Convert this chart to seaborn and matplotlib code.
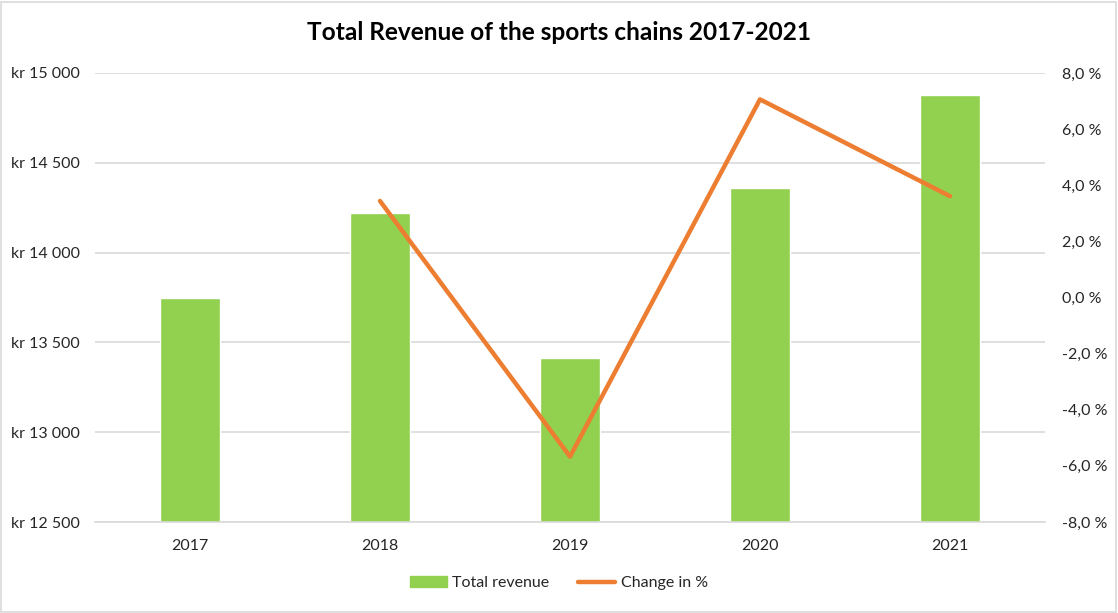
import matplotlib
matplotlib.use("Agg")
import matplotlib.pyplot as plt
from matplotlib.ticker import FuncFormatter, FixedLocator
from matplotlib.patches import Patch, Rectangle
from matplotlib.lines import Line2D
import seaborn as sns
import pandas as pd

years = ["2017", "2018", "2019", "2020", "2021"]
revenue = [13747, 14220, 13413, 14360, 14878]
change_pct = [None, 3.44, -5.67, 7.06, 3.61]

sns.set_theme(style="white")
plt.rcParams["font.family"] = ["Lato", "DejaVu Sans"]

GREEN = "#92d050"
ORANGE = "#ed7d31"
GRID = "#d9d9d9"
TEXT = "#262626"

fig = plt.figure(figsize=(11.18, 6.13), dpi=100)
ax = fig.add_axes([95 / 1118, 1 - 522 / 613, 950 / 1118, 449 / 613])

df = pd.DataFrame({"year": years, "revenue": revenue})
sns.barplot(data=df, x="year", y="revenue", color=GREEN, saturation=1,
            width=0.32, ax=ax, zorder=2)
ax.set_xlim(-0.5, len(years) - 0.5)
ax.set_ylim(12500, 15000)
ax.yaxis.set_major_locator(FixedLocator([12500, 13000, 13500, 14000, 14500, 15000]))
ax.yaxis.set_major_formatter(FuncFormatter(lambda v, p: "kr " + f"{int(v):,}".replace(",", " ")))
ax.grid(axis="y", color=GRID, linewidth=1.2, zorder=0)
ax.set_axisbelow(True)
for s in ["left", "right", "top"]:
    ax.spines[s].set_visible(False)
ax.spines["bottom"].set_color(GRID)
ax.spines["bottom"].set_linewidth(1.2)
ax.set_xlabel("")
ax.set_ylabel("")
ax.tick_params(axis="both", length=0, labelsize=11.5, colors=TEXT)
ax.tick_params(axis="x", pad=12)
ax.tick_params(axis="y", pad=11)

ax2 = ax.twinx()
line_df = pd.DataFrame({"pos": list(range(len(years))), "chg": change_pct}).dropna()
sns.lineplot(data=line_df, x="pos", y="chg", color=ORANGE, linewidth=3.2,
             ax=ax2, zorder=3)
ax2.set_xlim(-0.5, len(years) - 0.5)
ax2.set_ylim(-8, 8)
ax2.yaxis.set_major_locator(FixedLocator([-8, -6, -4, -2, 0, 2, 4, 6, 8]))
ax2.yaxis.set_major_formatter(FuncFormatter(lambda v, p: f"{v:.1f}".replace(".", ",") + " %"))
for s in ax2.spines.values():
    s.set_visible(False)
ax2.set_ylabel("")
ax2.set_xlabel("")
ax2.tick_params(axis="y", length=0, labelsize=11.5, colors=TEXT, pad=12)
for lab in ax2.get_yticklabels():
    lab.set_horizontalalignment("left")

fig.text(0.5, 1 - 32 / 613, "Total Revenue of the sports chains 2017-2021",
         ha="center", va="center", fontsize=17.6, fontweight="bold", color="black")

handles = [Patch(facecolor=GREEN, edgecolor=GREEN),
           Line2D([0], [0], color=ORANGE, linewidth=3.2)]
fig.legend(handles, ["Total revenue", "Change in %"], loc="center",
           bbox_to_anchor=(0.5, 1 - 583 / 613), ncol=2, frameon=False,
           fontsize=11.5, handlelength=2.3, handletextpad=0.35, columnspacing=1.8,
           labelcolor=TEXT)

fig.patches.append(Rectangle((1 / 1118, 1 / 613), 1 - 3 / 1118, 1 - 3 / 613,
                             transform=fig.transFigure, fill=False,
                             edgecolor=GRID, linewidth=1.2))

fig.savefig("out.png", dpi=100, facecolor="white")
